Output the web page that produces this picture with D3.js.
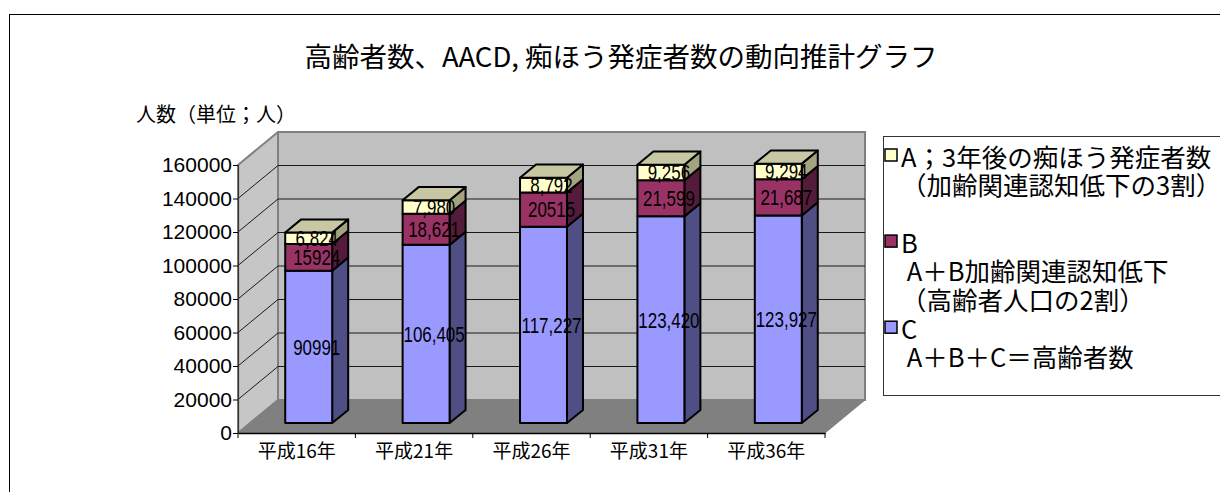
<!DOCTYPE html>
<html><head><meta charset="utf-8">
<script src="https://cdn.jsdelivr.net/npm/d3@7"></script>
<style>html,body{margin:0;padding:0;background:#fff;}svg{display:block;}</style>
</head><body>
<script>
const categories = ["平成16年","平成21年","平成26年","平成31年","平成36年"];
const seriesC = [90991,106405,117227,123420,123927];
const seriesB = [15924,18621,20515,21599,21687];
const seriesA = [6824,7980,8792,9256,9294];
const labelsC = ["90991","106,405","117,227","123,420","123,927"];
const labelsB = ["15924","18,621","20515","21,599","21,687"];
const labelsA = ["6,824","7,980","8,792","9,256","9,294"];
const yTicks = [0,20000,40000,60000,80000,100000,120000,140000,160000];
const titleText = "高齢者数、AACD, 痴ほう発症者数の動向推計グラフ";
const yTitle = "人数（単位；人）";
const legendEntries = [
  {key:"A", lines:["A；3年後の痴ほう発症者数","（加齢関連認知低下の3割）",""]},
  {key:"B", lines:["B"," A＋B加齢関連認知低下","（高齢者人口の2割）"]},
  {key:"C", lines:["C"," A＋B＋C＝高齢者数"]}
];

const W=1220,H=492;
const svg=d3.select("body").append("svg").attr("width",W).attr("height",H);
const CJK="'Noto Sans CJK JP','Noto Sans CJK SC',sans-serif";
const NUM="'Liberation Sans',Arial,sans-serif";

// outer border
svg.append("rect").attr("x",9.5).attr("y",14.5).attr("width",1230).attr("height",500)
  .attr("fill","#fff").attr("stroke","#000").attr("stroke-width",1);

const x=d3.scaleBand().domain(categories).range([238,825]);
const y=d3.scaleLinear().domain([0,160000]).range([433,165]);
const DX=40, DY=-33;
const P=(px,py,d)=>[px+d*DX, py+d*DY];
const poly=pts=>pts.map(p=>p.join(",")).join(" ");
const x0=x.range()[0], x1=x.range()[1];

// side wall
svg.append("polygon").attr("points",poly([[x0,y(0)],[x0,y(160000)],P(x0,y(160000),1),P(x0,y(0),1)]))
  .attr("fill","#c6c6c6").attr("stroke","#808080").attr("stroke-width",2).attr("stroke-linejoin","round");
// back wall
svg.append("polygon").attr("points",poly([P(x0,y(0),1),P(x1,y(0),1),P(x1,y(160000),1),P(x0,y(160000),1)]))
  .attr("fill","#c0c0c0").attr("stroke","#808080").attr("stroke-width",2);
// floor
svg.append("polygon").attr("points",poly([[x0,y(0)],[x1,y(0)],P(x1,y(0),1),P(x0,y(0),1)]))
  .attr("fill","#808080").attr("stroke","#808080").attr("stroke-width",1);

// gridlines
const grid=yTicks.filter(t=>t>0&&t<160000);
svg.append("g").selectAll("line.gb").data(grid).join("line")
  .attr("x1",P(x0,0,1)[0]).attr("x2",P(x1,0,1)[0])
  .attr("y1",d=>P(0,y(d),1)[1]).attr("y2",d=>P(0,y(d),1)[1])
  .attr("stroke","#1a1a1a").attr("stroke-width",1);
svg.append("g").selectAll("line.gs").data(grid).join("line")
  .attr("x1",x0).attr("y1",d=>y(d))
  .attr("x2",P(x0,0,1)[0]).attr("y2",d=>P(0,y(d),1)[1])
  .attr("stroke","#1a1a1a").attr("stroke-width",1);

// axes
const yAxis=d3.axisLeft(y).tickValues(yTicks).tickSize(5).tickFormat(d=>String(d));
const ga=svg.append("g").attr("transform",`translate(${x0},0)`).call(yAxis);
ga.select(".domain").attr("stroke","#333").attr("stroke-width",1.2);
ga.selectAll(".tick line").attr("stroke","#000");
ga.selectAll(".tick text").attr("font-family",NUM).attr("font-size",21).attr("fill","#000").attr("x",-6);

const xAxis=d3.axisBottom(x).tickSize(0).tickPadding(0);
const gx=svg.append("g").attr("transform",`translate(0,${y(0)})`).call(xAxis);
gx.select(".domain").attr("stroke","#000").attr("stroke-width",1.5);
gx.selectAll(".tick text").attr("font-family",CJK).attr("font-size",19).attr("fill","#000")
  .attr("dy",null).attr("y",16).attr("dominant-baseline","central");
// category boundary ticks
svg.append("g").selectAll("line").data(categories.concat(["end"])).join("line")
  .attr("x1",(d,i)=>x0+i*x.step()).attr("x2",(d,i)=>x0+i*x.step())
  .attr("y1",y(0)).attr("y2",y(0)+5).attr("stroke","#000").attr("stroke-width",1);

// bars
const bw=x.bandwidth()*0.4;
const d1=0.3, d2=0.7;
const ddx=(d2-d1)*DX, ddy=(d2-d1)*DY;
const series=[
  {vals:seriesC, labels:labelsC, front:"#9999ff", side:"#4f4f85", top:"#7a7acc"},
  {vals:seriesB, labels:labelsB, front:"#993366", side:"#541b3a", top:"#7a2952"},
  {vals:seriesA, labels:labelsA, front:"#ffffcc", side:"#a3a37f", top:"#c7c7a3"}
];
const gb=svg.append("g");
const labelData=[];
categories.forEach((c,i)=>{
  let base=0;
  const cx=x(c)+x.bandwidth()/2;
  series.forEach((s,si)=>{
    const v=s.vals[i];
    const top=base+v;
    const xl=cx-bw/2+d1*DX, xr=cx+bw/2+d1*DX;
    const yb=y(base)+d1*DY, yt=y(top)+d1*DY;
    const g=gb.append("g").attr("stroke","#000").attr("stroke-width",2).attr("stroke-linejoin","round");
    g.append("polygon").attr("points",poly([[xr,yb],[xr+ddx,yb+ddy],[xr+ddx,yt+ddy],[xr,yt]])).attr("fill",s.side);
    g.append("rect").attr("x",xl).attr("y",yt).attr("width",xr-xl).attr("height",yb-yt).attr("fill",s.front);
    if(si===series.length-1){
      g.append("polygon").attr("points",poly([[xl,yt],[xl+ddx,yt+ddy],[xr+ddx,yt+ddy],[xr,yt]])).attr("fill",s.top);
    }
    labelData.push({x:(xl+xr+ddx)/2, y:(yb+yt)/2, t:s.labels[i]});
    base=top;
  });
});
svg.append("g").selectAll("text").data(labelData).join("text")
  .attr("transform",d=>`translate(${d.x},${d.y}) scale(0.77,1)`)
  .attr("text-anchor","middle").attr("dominant-baseline","central")
  .attr("font-family",NUM).attr("font-size",22).attr("fill","#000").text(d=>d.t);

// title
svg.append("text").attr("x",621).attr("y",55).attr("text-anchor","middle").attr("dominant-baseline","central")
  .attr("font-family",CJK).attr("font-size",27.5).attr("fill","#000").text(titleText);
svg.append("text").attr("x",136).attr("y",113).attr("dominant-baseline","central")
  .attr("font-family",CJK).attr("font-size",20).attr("fill","#000").text(yTitle);

// legend
svg.append("rect").attr("x",883.5).attr("y",136.5).attr("width",400).attr("height",259)
  .attr("fill","#fff").attr("stroke","#333").attr("stroke-width",1);
const colorOf={A:"#ffffcc",B:"#993366",C:"#9999ff"};
const lineH=28.7;
let ly=155;
const lg=svg.append("g");
legendEntries.forEach(e=>{
  lg.append("rect").attr("x",885).attr("y",ly-6).attr("width",12).attr("height",12)
    .attr("fill",colorOf[e.key]).attr("stroke","#000").attr("stroke-width",1.5);
  e.lines.forEach((t,k)=>{
    lg.append("text").attr("x",901).attr("y",ly+k*lineH).attr("dominant-baseline","central")
      .attr("xml:space","preserve").style("white-space","pre")
      .attr("font-family",CJK).attr("font-size",25.5).attr("fill","#000").text(t);
  });
  ly+=e.lines.length*lineH;
});
</script>
</body></html>
